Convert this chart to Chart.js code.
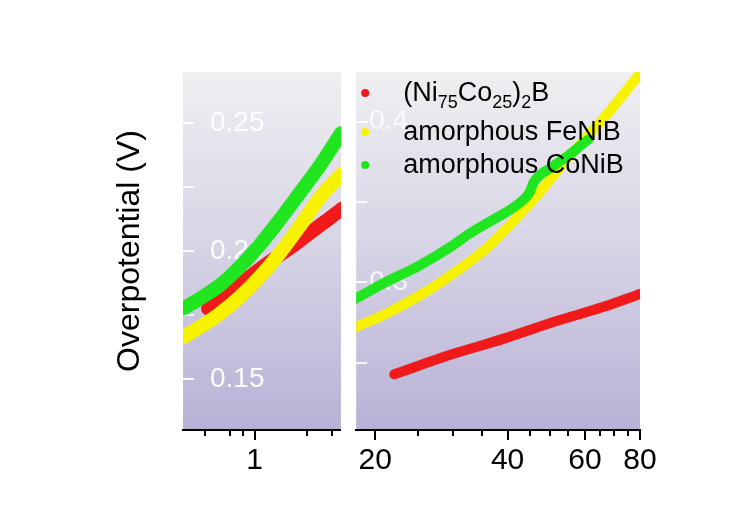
<!DOCTYPE html>
<html>
<head>
<meta charset="utf-8">
<script src="https://cdn.jsdelivr.net/npm/chart.js@4.4.1/dist/chart.umd.min.js"></script>
<style>
  html, body { margin: 0; background: #fff; }
  #wrap { position: relative; width: 741px; height: 513px; }
  canvas { position: absolute; top: 0; }
  #left { left: 0; }
  #right { left: 345px; }
</style>
</head>
<body>
<div id="wrap">
  <canvas id="left" width="345" height="513"></canvas>
  <canvas id="right" width="396" height="513"></canvas>
</div>
<script>
const FONT = "'Liberation Sans', Arial, sans-serif";

// low current density range (left panel)
const leftXTicks = [0.64, 0.8, 0.9, 1, 1.6, 2];
const leftXLabels = [1];
const leftYTicks = [0.15, 0.175, 0.2, 0.225, 0.25];
const leftYLabels = [0.15, 0.2, 0.25];

const leftX_NiCoB = [0.659, 0.80, 0.956, 1.143, 1.366, 1.633, 1.952, 2.19];
const leftY_NiCoB = [0.1775, 0.1833, 0.1898, 0.1957, 0.2010, 0.2069, 0.2127, 0.2165];
const leftX_FeNiB = [0.527, 0.612, 0.732, 0.875, 1.046, 1.25, 1.494, 1.786, 2.17];
const leftY_FeNiB = [0.1663, 0.1702, 0.1755, 0.1820, 0.1898, 0.1990, 0.2095, 0.2206, 0.2300];
const leftX_CoNiB = [0.527, 0.612, 0.732, 0.875, 1.046, 1.25, 1.494, 1.786, 2.17];
const leftY_CoNiB = [0.1775, 0.1814, 0.1866, 0.1938, 0.2023, 0.2121, 0.2225, 0.2330, 0.2460];

// high current density range (right panel)
const rightXTicks = [20, 25, 30, 35, 40, 45, 50, 55, 60, 65, 70, 75, 80];
const rightXLabels = [20, 40, 60, 80];
const rightYTicks = [0.25, 0.3, 0.35, 0.4];
const rightYLabels = [0.3, 0.4];

const rightX_NiCoB = [22.1, 30.0, 38.9, 50.5, 65.6, 80];
const rightY_NiCoB = [0.2427, 0.2553, 0.2646, 0.2750, 0.2844, 0.2928];
const rightX_FeNiB = [18.0, 21.1, 25.2, 30.0, 35.7, 42.4, 46.3, 50.5, 55.1, 60.1, 65.6, 71.6, 80];
const rightY_FeNiB = [0.2719, 0.2803, 0.2917, 0.3053, 0.3209, 0.3417, 0.3531, 0.3656, 0.3781, 0.3896, 0.4011, 0.4136, 0.4300];
const rightX_CoNiB = [18.0, 21.1, 25.2, 30.0, 32.7, 36.9, 42.4, 44.7, 45.9, 50.5, 55.1, 60.1, 61.2];
const rightY_CoNiB = [0.2896, 0.3000, 0.3104, 0.3229, 0.3302, 0.3386, 0.3490, 0.3552, 0.3625, 0.3719, 0.3792, 0.3875, 0.3890];

const seriesColors = ['#f01a1a', '#f7f200', '#20e620'];

// legend text, [text, isSubscript]
const legendRows = [
  [['(Ni', 0], ['75', 1], ['Co', 0], ['25', 1], [')', 0], ['2', 1], ['B', 0]],
  [['amorphous FeNiB', 0]],
  [['amorphous CoNiB', 0]]
];

const near = (list, v) => list.some(l => Math.abs(l - v) < 1e-9);

const panelFill = {
  id: 'panelFill',
  beforeDraw(chart) {
    const { ctx, chartArea: a } = chart;
    const g = ctx.createLinearGradient(0, a.top, 0, a.bottom);
    g.addColorStop(0, '#efeff1');
    g.addColorStop(0.45, '#d9d6e6');
    g.addColorStop(1, '#b8b1d6');
    ctx.save();
    ctx.fillStyle = g;
    ctx.fillRect(a.left, a.top, a.right - a.left, a.bottom - a.top);
    ctx.restore();
  }
};

// inward white y ticks, outward black x ticks (longer on labelled values)
const tickMarks = {
  id: 'tickMarks',
  beforeDatasetsDraw(chart) {
    const { ctx, chartArea: a, scales: { x, y } } = chart;
    ctx.save();
    ctx.lineWidth = 2;
    ctx.strokeStyle = 'rgba(255,255,255,0.9)';
    y.ticks.forEach(t => {
      const py = Math.round(y.getPixelForValue(t.value));
      ctx.beginPath(); ctx.moveTo(a.left, py); ctx.lineTo(a.left + 11, py); ctx.stroke();
    });
    ctx.strokeStyle = '#000';
    x.ticks.forEach(t => {
      const px = Math.round(x.getPixelForValue(t.value));
      ctx.beginPath(); ctx.moveTo(px, a.bottom); ctx.lineTo(px, a.bottom + (t.major ? 10 : 6)); ctx.stroke();
    });
    ctx.restore();
  }
};

const legendBox = {
  id: 'legendBox',
  afterDatasetsDraw(chart) {
    const { ctx, chartArea: a } = chart;
    const rowY = [22, 61, 94];
    ctx.save();
    legendRows.forEach((parts, i) => {
      const cy = a.top + rowY[i];
      ctx.fillStyle = seriesColors[i];
      ctx.beginPath(); ctx.arc(a.left + 9, cy - 1, 4, 0, Math.PI * 2); ctx.fill();
      let x = a.left + 47;
      ctx.fillStyle = '#000';
      ctx.textBaseline = 'middle';
      parts.forEach(([t, sub]) => {
        ctx.font = (sub ? 18 : 27) + 'px ' + FONT;
        ctx.fillText(t, x, cy + (sub ? 9 : 0));
        x += ctx.measureText(t).width;
      });
    });
    ctx.restore();
  }
};

function makePanel(id, cfg) {
  return new Chart(document.getElementById(id), {
    type: 'scatter',
    data: {
      datasets: cfg.series.map((s, i) => ({
        data: s[0].map((x, k) => ({ x, y: s[1][k] })),
        showLine: true,
        borderColor: seriesColors[i],
        backgroundColor: seriesColors[i],
        borderWidth: cfg.lineWidth,
        pointRadius: 0,
        borderCapStyle: 'round',
        borderJoinStyle: 'round',
        cubicInterpolationMode: 'monotone',
        clip: 0,
        order: 2 - i
      }))
    },
    options: {
      responsive: false,
      animation: false,
      devicePixelRatio: 1,
      layout: { padding: cfg.padding },
      plugins: { legend: { display: false }, tooltip: { enabled: false } },
      scales: {
        x: {
          type: 'logarithmic',
          min: cfg.xMin, max: cfg.xMax,
          grid: { display: false, drawTicks: false },
          border: { display: true, color: '#000', width: 2 },
          ticks: {
            autoSkip: false, maxRotation: 0, padding: 13,
            color: '#000', font: { family: FONT, size: 30 },
            callback: v => near(cfg.xLabels, v) ? String(v) : ''
          },
          afterBuildTicks: s => { s.ticks = cfg.xTicks.map(v => ({ value: v, major: near(cfg.xLabels, v) })); },
          afterFit: s => { s.height = 83; }
        },
        y: {
          min: cfg.yMin, max: cfg.yMax,
          grid: { display: false, drawTicks: false },
          border: { display: false },
          ticks: {
            mirror: true, padding: cfg.yPad,
            color: cfg.yColor, font: { family: FONT, size: 28 },
            callback: v => near(cfg.yLabels, v) ? v.toFixed(cfg.yDigits) : ''
          },
          afterBuildTicks: s => { s.ticks = cfg.yTicks.map(v => ({ value: v })); },
          afterFit: s => { s.width = cfg.yWidth; },
          title: cfg.yTitle
        }
      }
    },
    plugins: cfg.plugins
  });
}

makePanel('left', {
  series: [[leftX_NiCoB, leftY_NiCoB], [leftX_FeNiB, leftY_FeNiB], [leftX_CoNiB, leftY_CoNiB]],
  lineWidth: 14,
  padding: { top: 72, right: 2, bottom: 0, left: 0 },
  xMin: 0.526, xMax: 2.17, xTicks: leftXTicks, xLabels: leftXLabels,
  yMin: 0.13, yMax: 0.27, yTicks: leftYTicks, yLabels: leftYLabels, yDigits: 2,
  yPad: 27, yColor: 'rgba(255,255,255,0.95)', yWidth: 183,
  yTitle: {
    display: true, text: 'Overpotential (V)', color: '#000',
    font: { family: FONT, size: 32 }, padding: { top: 111, bottom: 0 }
  },
  plugins: [panelFill, tickMarks]
});

makePanel('right', {
  series: [[rightX_NiCoB, rightY_NiCoB], [rightX_FeNiB, rightY_FeNiB], [rightX_CoNiB, rightY_CoNiB]],
  lineWidth: 10,
  padding: { top: 72, right: 101, bottom: 0, left: 0 },
  xMin: 18.1, xMax: 80, xTicks: rightXTicks, xLabels: rightXLabels,
  yMin: 0.208, yMax: 0.431, yTicks: rightYTicks, yLabels: rightYLabels, yDigits: 1,
  yPad: 13, yColor: 'rgba(255,255,255,0.8)', yWidth: 8,
  yTitle: { display: false },
  plugins: [panelFill, tickMarks, legendBox]
});
</script>
</body>
</html>
